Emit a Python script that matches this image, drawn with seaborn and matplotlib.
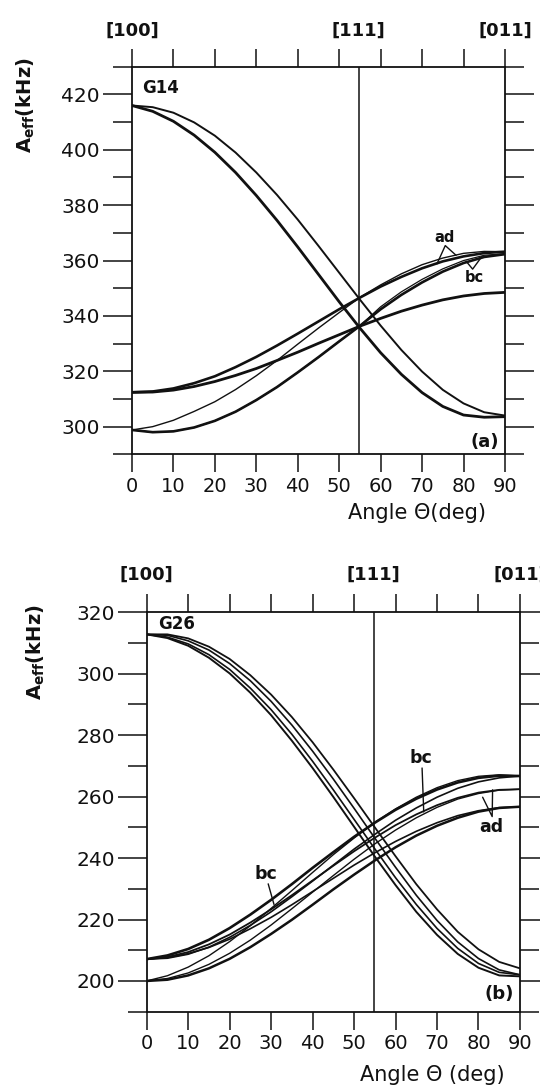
import numpy as np
import pandas as pd
import matplotlib
matplotlib.use("Agg")
import matplotlib.pyplot as plt
import matplotlib.transforms as mtransforms
import seaborn as sns

# ---------------- data ----------------
theta = [0, 5, 10, 15, 20, 25, 30, 35, 40, 45, 50, 55, 60, 65, 70, 75, 80, 85, 90]
THETA_111 = 54.74

# panel (a) G14
g14_D1 = [416.0, 413.9, 410.3, 405.3, 399.1, 391.8, 383.5, 374.5, 364.9, 355.0, 345.1, 335.6, 326.7, 318.9, 312.3, 307.3, 304.2, 303.4, 303.6]
g14_D2 = [416.0, 415.4, 413.4, 409.9, 405.1, 399.0, 391.8, 383.7, 374.8, 365.3, 355.6, 345.9, 336.5, 327.7, 319.9, 313.3, 308.4, 305.2, 304.0]
g14_a = [312.4, 312.7, 313.8, 315.7, 318.2, 321.5, 325.2, 329.3, 333.6, 338.0, 342.4, 346.6, 350.6, 354.1, 357.2, 359.7, 361.5, 362.7, 363.2]
g14_d = [298.8, 300.0, 302.3, 305.5, 309.0, 313.4, 318.4, 323.9, 329.8, 335.6, 341.2, 346.7, 351.2, 355.2, 358.5, 360.9, 362.6, 363.3, 363.2]
g14_e = [312.4, 312.5, 313.2, 314.5, 316.3, 318.5, 321.0, 323.9, 326.9, 330.1, 333.2, 336.3, 339.1, 341.7, 343.9, 345.8, 347.2, 348.1, 348.5]
g14_b = [298.8, 298.0, 298.3, 299.7, 302.1, 305.4, 309.6, 314.3, 319.6, 325.1, 330.8, 336.4, 343.3, 348.7, 353.2, 357.0, 360.0, 361.9, 362.5]
g14_c = [298.8, 298.0, 298.3, 299.7, 302.1, 305.4, 309.6, 314.3, 319.6, 325.1, 330.8, 336.4, 342.4, 347.6, 352.1, 356.0, 359.1, 361.3, 362.3]

# panel (b) G26
g26_F1 = [312.8, 312.8, 311.5, 308.8, 304.8, 299.5, 293.2, 285.9, 277.7, 268.8, 259.5, 250.0, 240.6, 231.5, 223.3, 216.0, 210.3, 206.2, 204.1]
g26_F2 = [312.8, 312.5, 310.7, 307.7, 303.3, 297.7, 291.0, 283.3, 274.8, 265.7, 256.2, 246.5, 237.0, 227.9, 219.7, 212.7, 207.3, 203.6, 202.0]
g26_F3 = [312.8, 311.9, 309.7, 306.2, 301.4, 295.3, 288.3, 280.3, 271.5, 262.2, 252.6, 243.0, 233.6, 224.9, 217.1, 210.6, 205.7, 202.8, 202.0]
g26_F4 = [312.8, 311.6, 309.1, 305.2, 300.1, 293.8, 286.5, 278.2, 269.3, 259.9, 250.2, 240.5, 231.2, 222.5, 215.0, 208.8, 204.3, 201.8, 201.5]
g26_I1 = [207.1, 208.3, 210.4, 213.4, 217.2, 221.6, 226.4, 231.5, 236.8, 241.9, 246.9, 251.5, 255.7, 259.3, 262.3, 264.6, 266.1, 266.8, 266.7]
g26_I2 = [200.0, 201.7, 204.5, 208.2, 212.8, 218.0, 223.6, 229.4, 235.3, 241.1, 246.5, 251.6, 256.0, 259.8, 262.9, 265.2, 266.6, 267.1, 266.7]
g26_I3 = [207.1, 207.4, 208.7, 211.0, 214.2, 218.1, 222.5, 227.4, 232.5, 237.7, 242.9, 247.7, 252.3, 256.3, 259.8, 262.7, 264.8, 266.1, 266.7]
g26_I4 = [207.1, 207.8, 209.4, 211.9, 215.1, 219.0, 223.3, 227.9, 232.7, 237.5, 242.2, 246.6, 250.7, 254.2, 257.2, 259.6, 261.3, 262.2, 262.4]
g26_I5 = [200.0, 200.8, 202.6, 205.4, 209.0, 213.3, 218.2, 223.5, 228.9, 234.3, 239.6, 244.6, 249.1, 253.1, 256.5, 259.2, 261.0, 262.1, 262.4]
g26_I6 = [207.1, 207.6, 208.9, 210.9, 213.6, 217.0, 220.7, 224.8, 229.1, 233.4, 237.7, 241.7, 245.4, 248.7, 251.5, 253.8, 255.4, 256.4, 256.7]
g26_I7 = [200.0, 200.4, 201.8, 204.1, 207.2, 211.0, 215.3, 219.9, 224.8, 229.8, 234.6, 239.2, 243.5, 247.3, 250.5, 253.1, 255.1, 256.3, 256.7]

x_ticks = [0, 10, 20, 30, 40, 50, 60, 70, 80, 90]
dir_labels = ["[100]", "[111]", "[011]"]
dir_pos = [0, THETA_111, 90]

# ---------------- style ----------------
sns.set_style("ticks")
plt.rcParams["font.family"] = ["DejaVu Sans"]
plt.rcParams["axes.linewidth"] = 1.3
plt.rcParams["xtick.major.width"] = 1.1
plt.rcParams["ytick.major.width"] = 1.1
plt.rcParams["ytick.minor.width"] = 1.1
plt.rcParams["xtick.color"] = "black"
plt.rcParams["ytick.color"] = "black"
INK = "#111111"

fig = plt.figure(figsize=(5.4, 10.89), dpi=100)
ax1 = fig.add_axes([0.2444, 0.5828, 0.6907, 0.3559])
ax2 = fig.add_axes([0.2716, 0.0710, 0.6913, 0.3668])


def draw(ax, series, widths):
    for vals, lw in zip(series, widths):
        sns.lineplot(x=theta, y=vals, ax=ax, color=INK, linewidth=lw,
                     estimator=None, sort=False, legend=False)


def style(ax, ylim, ymaj, ymin, xlabel, name, tag, xl_x, xl_y, tag_y, name_xy):
    ax.set_xlim(0, 90)
    ax.set_ylim(*ylim)
    ax.axvline(THETA_111, color=INK, lw=1.1)
    for s in ax.spines.values():
        s.set_visible(True)
        s.set_color(INK)
    ax.set_xticks(x_ticks)
    ax.set_xticklabels([str(t) for t in x_ticks])
    ax.set_yticks(ymaj)
    ax.set_yticklabels([str(v) for v in ymaj])
    ax.set_yticks(ymin, minor=True)
    ax.tick_params(axis="x", which="major", direction="out", length=13,
                   top=True, bottom=True, labelsize=14, pad=3, colors=INK)
    ax.tick_params(axis="y", which="major", direction="out", length=21,
                   left=True, right=True, labelsize=14.5, pad=2, colors=INK)
    ax.tick_params(axis="y", which="minor", direction="out", length=14,
                   left=True, right=True, colors=INK)
    ax.set_xlabel("")
    ax.set_ylabel("")
    ax.text(xl_x, xl_y, xlabel, transform=ax.transAxes, ha="right",
            va="center", fontsize=15, color=INK)
    ax.text(name_xy[0], name_xy[1], name, transform=ax.transAxes, ha="left",
            va="center", fontsize=12, fontweight="bold", color=INK)
    ax.text(0.985, tag_y, tag, transform=ax.transAxes, ha="right",
            va="center", fontsize=13, fontweight="bold", color=INK)
    trans = mtransforms.blended_transform_factory(ax.transData, ax.transAxes)
    for lab, pos in zip(dir_labels, dir_pos):
        ax.text(pos, 1.094, lab, transform=trans, ha="center", va="center",
                fontsize=13, fontweight="bold", color=INK)


# panel (a)
draw(ax1,
     [g14_D1, g14_D2, g14_a, g14_d, g14_e, g14_b, g14_c],
     [2.0, 1.4, 1.9, 1.0, 2.0, 0.9, 1.9])
style(ax1, (290, 430), [300, 320, 340, 360, 380, 400, 420],
      [290, 310, 330, 350, 370, 390, 410, 430],
      "Angle Θ(deg)", "G14", "(a)", 0.948, -0.152, 0.032, (0.027, 0.945))
# ad / bc labels in (a)
ax1.text(75.5, 368.2, "ad", ha="center", va="center", fontsize=10.5,
         fontweight="bold", color=INK)
ax1.plot([73.6, 75.6, 78.2], [358.8, 365.4, 361.9], color=INK, lw=1.0)
ax1.text(82.5, 354.0, "bc", ha="center", va="center", fontsize=10.5,
         fontweight="bold", color=INK)
ax1.plot([80.6, 82.2, 84.4], [359.8, 356.9, 361.4], color=INK, lw=1.0)

# panel (b)
draw(ax2,
     [g26_F1, g26_F2, g26_F3, g26_F4, g26_I1, g26_I2, g26_I3, g26_I4,
      g26_I5, g26_I6, g26_I7],
     [1.3, 1.2, 1.2, 1.4, 1.9, 1.0, 1.2, 1.3, 1.0, 1.2, 1.8])
style(ax2, (190, 320), [200, 220, 240, 260, 280, 300, 320],
      [190, 210, 230, 250, 270, 290, 310],
      "Angle Θ (deg)", "G26", "(b)", 0.96, -0.158, 0.044, (0.03, 0.971))
ax2.text(66.1, 272.6, "bc", ha="center", va="center", fontsize=12.5,
         fontweight="bold", color=INK)
ax2.plot([66.4, 66.8], [269.3, 255.0], color=INK, lw=1.0)
ax2.text(83.2, 250.2, "ad", ha="center", va="center", fontsize=12.5,
         fontweight="bold", color=INK)
ax2.plot([81.0, 83.3, 83.4], [259.8, 253.5, 262.2], color=INK, lw=1.0)
ax2.text(28.8, 234.9, "bc", ha="center", va="center", fontsize=12.5,
         fontweight="bold", color=INK)
ax2.plot([29.3, 30.7], [231.6, 224.9], color=INK, lw=1.0)

# y labels
ylab = r"$\mathbf{A_{eff}}$(kHz)"
fig.text(26 / 540, 1 - 105 / 1089, ylab, rotation=90, ha="center",
         va="center", fontsize=14, fontweight="bold", color=INK)
fig.text(36 / 540, 1 - 652 / 1089, ylab, rotation=90, ha="center",
         va="center", fontsize=14, fontweight="bold", color=INK)

fig.savefig("out.png", dpi=100)
